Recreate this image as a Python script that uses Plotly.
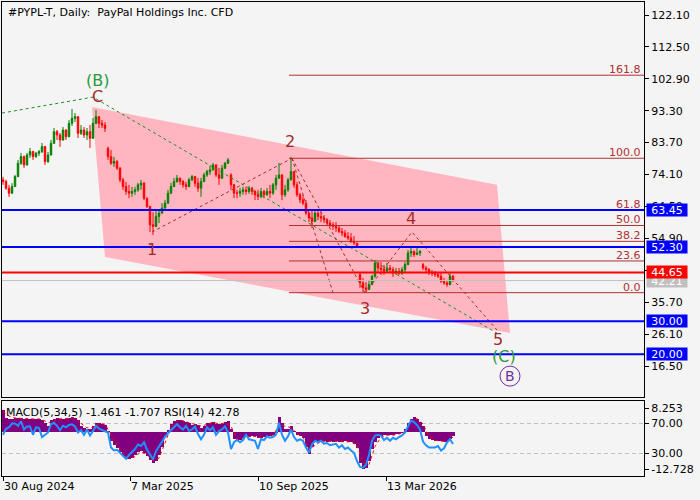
import plotly.graph_objects as go

FONT = "DejaVu Sans"
BG = "#f4f4f4"

# ---------------- price data (one candle per 3 trading days) ----------------
first_bar = 3
bar_step = 3

opens = [72.5, 72.0, 70.0, 68.5, 70.5, 73.5, 77.5, 79.5, 77.0, 80.0,
         81.0, 79.5, 80.5, 81.0, 82.5, 78.0, 80.0, 83.5, 87.0, 86.0,
         84.5, 87.5, 85.5, 89.5, 91.0, 91.5, 86.5, 87.5, 86.0, 87.0,
         85.0, 89.5, 91.5, 89.5, 89.0, 82.0, 79.5, 77.5, 78.0, 76.0,
         72.5, 70.5, 69.0, 68.5, 69.0, 69.5, 71.0, 71.5, 67.0, 64.5,
         59.0, 58.5, 61.5, 62.5, 64.0, 65.5, 68.5, 70.5, 72.0, 73.0,
         72.0, 71.0, 70.5, 72.5, 73.5, 71.5, 70.0, 72.0, 74.0, 75.0,
         75.5, 77.0, 74.0, 73.0, 76.0, 77.5, 74.0, 71.0, 68.5, 68.5,
         69.0, 69.5, 69.0, 70.0, 69.0, 68.0, 67.5, 69.0, 68.0, 69.0,
         68.5, 71.0, 73.0, 74.0, 68.0, 69.5, 72.5, 75.0, 71.0, 68.0,
         66.5, 65.5, 62.5, 61.0, 60.0, 62.5, 61.5, 61.0, 60.5, 59.5,
         59.0, 58.5, 58.0, 57.0, 56.5, 55.5, 55.0, 54.0, 53.5, 44.0,
         41.5, 40.0, 39.5, 41.0, 43.5, 47.5, 46.0, 45.5, 45.0, 46.0,
         45.5, 44.5, 45.0, 44.5, 45.5, 47.0, 50.5, 51.0, 50.0, 50.5,
         47.0, 46.0, 45.5, 44.5, 44.5, 44.0, 43.5, 42.0, 41.5, 41.0,
         43.5]
highs = [73.4, 72.5, 71.0, 71.5, 74.0, 78.5, 80.6, 79.8, 80.6, 82.1,
         81.2, 80.9, 81.5, 83.6, 82.7, 80.9, 84.5, 88.1, 87.5, 86.6,
         88.4, 87.7, 90.5, 93.8, 92.6, 91.7, 89.0, 88.4, 88.1, 89.0,
         91.1, 93.5, 91.7, 90.5, 89.9, 82.5, 81.5, 79.4, 78.5, 76.4,
         73.1, 71.9, 71.0, 70.4, 70.4, 71.6, 72.5, 71.8, 67.2, 64.7,
         62.8, 63.4, 63.4, 65.5, 66.4, 69.5, 71.6, 73.1, 74.0, 73.2,
         72.5, 71.9, 73.1, 74.0, 73.7, 73.1, 73.1, 74.6, 75.5, 76.7,
         77.6, 77.2, 76.1, 77.0, 77.9, 79.1, 74.5, 71.2, 69.5, 70.1,
         70.4, 70.4, 70.7, 70.4, 69.5, 69.5, 70.1, 69.5, 70.1, 71.0,
         71.6, 74.0, 77.6, 74.2, 71.0, 73.1, 79.4, 75.2, 71.9, 68.6,
         68.0, 66.4, 62.8, 63.4, 63.4, 63.4, 62.8, 61.9, 61.0, 60.4,
         59.8, 59.8, 58.9, 58.0, 57.4, 56.8, 56.5, 55.6, 53.5, 44.5,
         43.0, 41.8, 42.4, 43.9, 48.4, 47.8, 47.8, 46.9, 47.5, 46.9,
         46.3, 46.0, 46.0, 46.3, 47.8, 51.4, 52.0, 51.2, 52.0, 51.4,
         47.5, 46.6, 46.0, 45.4, 45.1, 44.8, 44.8, 43.0, 42.4, 44.5,
         43.9]
lows = [71.0, 69.5, 67.4, 68.3, 70.3, 73.3, 77.0, 76.1, 76.8, 79.1,
        78.5, 79.1, 79.7, 80.6, 77.0, 77.6, 79.8, 83.3, 84.5, 82.4,
        84.3, 84.5, 85.3, 88.7, 89.9, 85.1, 86.0, 85.1, 84.5, 82.1,
        84.8, 89.3, 88.1, 88.1, 86.9, 78.5, 77.0, 76.4, 75.5, 71.8,
        69.5, 68.0, 67.0, 67.4, 68.0, 68.9, 69.5, 66.4, 64.0, 56.8,
        55.9, 58.3, 59.5, 62.3, 63.8, 65.3, 68.3, 70.3, 71.6, 71.0,
        70.1, 69.5, 70.3, 72.2, 70.4, 68.9, 67.4, 71.8, 73.4, 74.0,
        75.3, 73.4, 71.0, 72.8, 75.8, 77.3, 69.5, 67.0, 67.0, 67.4,
        68.0, 68.0, 68.3, 68.0, 66.4, 66.4, 67.0, 67.0, 67.7, 67.0,
        68.0, 69.5, 72.8, 66.4, 67.4, 68.9, 72.3, 70.1, 67.4, 65.5,
        64.9, 61.9, 59.8, 58.0, 59.8, 60.4, 59.8, 59.5, 58.6, 58.3,
        57.4, 56.8, 56.5, 55.6, 55.0, 54.4, 53.5, 52.9, 52.0, 40.0,
        38.8, 38.5, 39.4, 40.9, 43.0, 44.8, 43.9, 43.9, 44.5, 44.5,
        43.3, 43.9, 43.9, 43.9, 44.8, 46.8, 49.3, 49.3, 49.9, 49.6,
        45.4, 44.5, 43.9, 43.6, 43.3, 43.0, 41.5, 40.9, 40.3, 40.8,
        41.8]
closes = [72.0, 70.0, 68.5, 70.5, 73.5, 77.5, 79.5, 77.0, 80.0, 81.0,
          79.5, 80.5, 81.0, 82.5, 78.0, 80.0, 83.5, 87.0, 86.0, 84.5,
          87.5, 85.5, 89.5, 91.0, 91.5, 86.5, 87.5, 86.0, 87.0, 85.0,
          89.5, 91.5, 89.5, 89.0, 88.0, 79.5, 77.5, 78.0, 76.0, 72.5,
          70.5, 69.0, 68.5, 69.0, 69.5, 71.0, 71.5, 67.0, 64.5, 59.0,
          58.5, 61.5, 62.5, 64.0, 65.5, 68.5, 70.5, 72.0, 73.0, 72.0,
          71.0, 70.5, 72.5, 73.5, 71.5, 70.0, 72.0, 74.0, 75.0, 75.5,
          77.0, 74.0, 73.0, 76.0, 77.5, 78.5, 71.0, 68.5, 68.5, 69.0,
          69.5, 69.0, 70.0, 69.0, 68.0, 67.5, 69.0, 68.0, 69.0, 68.5,
          71.0, 73.0, 74.0, 68.0, 69.5, 72.5, 75.0, 71.0, 68.0, 66.5,
          65.5, 62.5, 61.0, 60.0, 62.5, 61.5, 61.0, 60.5, 59.5, 59.0,
          58.5, 58.0, 57.0, 56.5, 55.5, 55.0, 54.0, 53.5, 52.5, 41.5,
          40.0, 39.5, 41.0, 43.5, 47.5, 46.0, 45.5, 45.0, 46.0, 45.5,
          44.5, 45.0, 44.5, 45.5, 47.0, 50.5, 51.0, 50.0, 50.5, 51.0,
          46.0, 45.5, 44.5, 44.5, 44.0, 43.5, 42.0, 41.5, 41.0, 43.5,
          42.21]

# ---------------- indicator data ----------------
macd_hist = [7.5, 4.8, 4.5, 4.6, 4.8, 4.8, 4.8, 4.6, 4.5, 4.6,
             4.5, 4.4, 4.5, 4.3, 3.0, 2.2, 4.0, 4.6, 4.8, 4.6,
             4.6, 4.5, 4.7, 5.0, 4.8, 4.0, 2.0, 1.5, 1.0, 1.2,
             2.0, 3.0, 3.2, 2.8, 2.5, 0.5, -3.1, -4.5, -5.5, -7.0,
             -8.2, -9.2, -9.3, -9.0, -8.0, -6.8, -6.5, -7.2, -8.2, -9.5,
             -10.5, -10.0, -8.0, -5.0, -1.5, 0.8, 2.8, 3.8, 4.2, 4.0,
             3.8, 3.5, 3.0, 2.5, 2.6, 2.4, 1.5, 2.2, 3.0, 3.2,
             3.6, 2.8, 2.6, 2.8, 3.4, 3.8, 1.0, -2.5, -3.2, -2.8,
             -2.0, -1.5, -1.6, -1.4, -1.5, -2.2, -2.0, -1.8, -1.5, -1.4,
             -1.2, -0.5, 5.0, 3.0, 1.2, 1.0, 2.0, 0.5, -1.2, -1.5,
             -2.0, -5.0, -7.5, -5.0, -3.5, -3.0, -3.2, -3.0, -3.3, -3.2,
             -3.4, -3.2, -3.5, -3.3, -3.2, -3.4, -3.5, -4.0, -5.5, -10.5,
             -12.7, -12.5, -10.0, -6.0, -3.5, -2.0, -1.5, -1.2, -1.0, -1.2,
             -1.0, -0.8, -0.6, -0.2, 1.0, 3.0, 4.5, 5.0, 4.5, 3.5,
             2.0, -1.5, -2.5, -2.8, -3.0, -3.0, -3.2, -3.5, -3.5, -2.5,
             -1.461]
macd_signal = [7.0, 5.5, 4.8, 4.8, 4.6, 4.5, 4.5, 3.8, 3.0, 4.5,
               4.6, 4.6, 4.8, 3.0, 1.4, 1.6, 2.9, 2.7, -1.0, -4.5,
               -7.3, -9.0, -8.5, -6.8, -7.8, -9.8, -9.0, -3.5, 1.5, 3.9,
               3.9, 3.2, 2.6, 2.0, 2.6, 3.4, 2.7, 3.1, 2.0, -2.5,
               -2.4, -1.6, -1.5, -2.0, -1.6, -1.3, 2.5, 2.0, 1.5, -0.5,
               -1.8, -6.0, -4.5, -3.2, -3.2, -3.3, -3.4, -3.3, -3.4, -4.5,
               -10.5, -11.2, -5.0, -1.8, -1.1, -1.1, -0.7, 0.3, 3.5, 4.6,
               2.8, -1.5, -2.8, -3.1, -3.5, -1.707]
rsi = [55, 63, 65, 70, 70, 67, 73, 62, 66, 66,
       55, 65, 64, 52, 55, 58, 69, 71, 67, 61,
       67, 65, 68, 69, 66, 58, 61, 55, 62, 54,
       60, 67, 63, 61, 60, 58, 38, 34, 35, 31,
       27, 23, 28, 32, 36, 42, 40, 45, 35, 29,
       22, 33, 40, 46, 52, 57, 61, 65, 69, 65,
       62, 67, 60, 62, 66, 56, 49, 55, 65, 61,
       65, 55, 60, 62, 66, 58, 36, 45, 48, 45,
       48, 55, 49, 48, 47, 36, 49, 48, 53, 51,
       52, 55, 71, 55, 47, 53, 62, 52, 47, 49,
       47, 38, 31, 42, 47, 45, 47, 43, 44, 41,
       42, 43, 38, 41, 36, 38, 34, 31, 20, 12,
       11, 15, 28, 47, 54, 55, 54, 48, 51, 47,
       51, 49, 52, 54, 58, 67, 74, 72, 68, 62,
       46, 41, 38, 38, 38, 40, 34, 37, 45, 49,
       42.78]

# ---------------- axis labels ----------------
price_ticks = [122.10, 112.50, 102.90, 93.30, 83.70, 74.10, 64.50, 54.90, 45.30, 35.70, 26.10, 16.50]
date_tick_bars = [3, 130, 258, 386]
date_tick_labels = ["30 Aug 2024", "7 Mar 2025", "10 Sep 2025", "13 Mar 2026"]
macd_ticks = [8.253, -12.728]
rsi_levels = [70, 30]

# ---------------- analysis objects ----------------
channel_bars = [92, 497, 510, 105]
channel_prices = [94.4, 71.0, 26.4, 49.3]

wave_bars = [152, 292, 365, 412, 497]
wave_prices = [56.8, 79.0, 38.5, 56.8, 27.3]
wave_names = ["1", "2", "3", "4", "5"]
alt3_bar, alt3_price = 333, 38.5

major_bars = [2, 93, 497]
major_prices = [92.6, 97.4, 26.4]

fib_start_bar = 289
fib_low, fib_high = 38.56, 79.0
fib_ratios = [0.0, 23.6, 38.2, 50.0, 61.8, 100.0, 161.8]

levels_blue = [63.45, 52.30, 30.00, 20.00]
level_red = 44.65
last_price = 42.21
title_text = "#PYPL-T, Daily:\u00a0\u00a0PayPal Holdings Inc. CFD"
ind_text = "MACD(5,34,5) -1.461 -1.707 RSI(14) 42.78"

# ---------------- build ----------------
bars = [first_bar + bar_step * i for i in range(len(closes))]
sig_bars = [first_bar + 2 * bar_step * i for i in range(len(macd_signal))]
X_RANGE = [2, 644]

WAVE_RED = "#a52a2a"
FIB_RED = "#b03030"
GREEN_W = "#228b22"

fig = go.Figure()

fig.add_trace(go.Candlestick(
    x=bars, open=opens, high=highs, low=lows, close=closes,
    increasing=dict(line=dict(color="#008000", width=1), fillcolor="#008000"),
    decreasing=dict(line=dict(color="#ff0000", width=1), fillcolor="#ff0000"),
    whiskerwidth=0, xaxis="x", yaxis="y", hoverinfo="skip"))

dash = "3px,3px"
fig.add_trace(go.Scatter(x=major_bars, y=major_prices, mode="lines",
                         line=dict(color=GREEN_W, width=1, dash=dash),
                         xaxis="x", yaxis="y", hoverinfo="skip"))
segs = [
    ([wave_bars[0], wave_bars[1]], [wave_prices[0], wave_prices[1]]),
    ([wave_bars[1], wave_bars[2]], [wave_prices[1], wave_prices[2]]),
    ([wave_bars[1], alt3_bar], [wave_prices[1], alt3_price]),
    (wave_bars[2:], wave_prices[2:]),
]
for sx, sy in segs:
    fig.add_trace(go.Scatter(x=sx, y=sy, mode="lines",
                             line=dict(color=WAVE_RED, width=1, dash=dash),
                             xaxis="x", yaxis="y", hoverinfo="skip"))

fig.add_trace(go.Bar(x=bars, y=macd_hist, width=bar_step, marker=dict(color="#800080", line=dict(width=0)),
                     xaxis="x2", yaxis="y2", hoverinfo="skip"))
fig.add_trace(go.Scatter(x=sig_bars, y=macd_signal, mode="lines",
                         line=dict(color="#ff0000", width=1, dash="dot"),
                         xaxis="x2", yaxis="y2", hoverinfo="skip"))
fig.add_trace(go.Scatter(x=bars, y=rsi, mode="lines",
                         line=dict(color="#1e90ff", width=2),
                         xaxis="x2", yaxis="y3", hoverinfo="skip"))

shapes = []
annotations = []

# pink channel (behind the candles)
path = "M " + " L ".join(f"{b},{p}" for b, p in zip(channel_bars, channel_prices)) + " Z"
shapes.append(dict(type="path", xref="x", yref="y", path=path, fillcolor="#ffb6c1",
                   line=dict(width=0), layer="below"))

# fib levels
for r in fib_ratios:
    lv = fib_low + r / 100.0 * (fib_high - fib_low)
    shapes.append(dict(type="line", xref="x", yref="y", x0=fib_start_bar, x1=X_RANGE[1],
                       y0=lv, y1=lv, line=dict(color=FIB_RED, width=1), layer="above"))
    annotations.append(dict(text=f"{r:.1f}", xref="x domain", x=1, xanchor="right", xshift=-2,
                            yref="y", y=lv, yanchor="bottom", yshift=-2, showarrow=False,
                            font=dict(family=FONT, size=11, color=FIB_RED), borderpad=0))

# horizontal levels
shapes.append(dict(type="line", xref="x domain", yref="y", x0=0, x1=1, y0=last_price, y1=last_price,
                   line=dict(color="#c0c0c0", width=1), layer="above"))
for lv in levels_blue:
    shapes.append(dict(type="line", xref="x domain", yref="y", x0=0, x1=1, y0=lv, y1=lv,
                       line=dict(color="#0000ff", width=2), layer="above"))
shapes.append(dict(type="line", xref="x domain", yref="y", x0=0, x1=1, y0=level_red, y1=level_red,
                   line=dict(color="#ff0000", width=2), layer="above"))

def price_box(v, color):
    return dict(text=f"{v:.2f}", xref="paper", x=1, xanchor="left", xshift=2,
                yref="y", y=v, yanchor="middle", showarrow=False, bgcolor=color,
                font=dict(family=FONT, size=11, color="white"), borderpad=0,
                width=40, height=12)

annotations.append(price_box(last_price, "#c0c0c0"))
for lv in levels_blue:
    annotations.append(price_box(lv, "#0000ff"))
annotations.append(price_box(level_red, "#ff0000"))

for lv in rsi_levels:
    shapes.append(dict(type="line", xref="x2 domain", yref="y3", x0=0, x1=1, y0=lv, y1=lv,
                       line=dict(color="#c0c0c0", width=1, dash="4px,3px"), layer="below"))

wave_shift = [(0, -17), (-2, 17), (0, -16), (-1, 14), (1, -9)]
for b, p, n, (dx, dy) in zip(wave_bars, wave_prices, wave_names, wave_shift):
    annotations.append(dict(text=n, xref="x", yref="y", x=b, y=p, xshift=dx, yshift=dy,
                            showarrow=False, font=dict(family=FONT, size=16, color=WAVE_RED)))
annotations.append(dict(text="C", xref="x", yref="y", x=major_bars[1], y=major_prices[1],
                        xshift=4, yshift=1, showarrow=False,
                        font=dict(family=FONT, size=16, color=WAVE_RED)))
annotations.append(dict(text="(B)", xref="x", yref="y", x=major_bars[1], y=major_prices[1],
                        xshift=4, yshift=17, showarrow=False,
                        font=dict(family=FONT, size=16, color="#2a9a3a")))
annotations.append(dict(text="(C)", xref="x", yref="y", x=major_bars[2], y=major_prices[2],
                        xshift=7, yshift=-23, showarrow=False,
                        font=dict(family=FONT, size=16, color="#2a9a3a")))
annotations.append(dict(text="B", xref="x", yref="y", x=major_bars[2], y=major_prices[2],
                        xshift=13, yshift=-43, showarrow=False,
                        font=dict(family=FONT, size=14, color="#7030a0")))
shapes.append(dict(type="circle", xref="x", yref="y", xsizemode="pixel", ysizemode="pixel",
                   xanchor=major_bars[2], yanchor=major_prices[2],
                   x0=3, x1=23, y0=-53, y1=-33, line=dict(color="#7030a0", width=1), layer="above"))

annotations.append(dict(text=title_text, xref="paper", x=0, xanchor="left", xshift=4,
                        yref="paper", y=1, yanchor="top", yshift=-2, showarrow=False,
                        font=dict(family=FONT, size=11, color="black")))
annotations.append(dict(text=ind_text, xref="paper", x=0, xanchor="left", xshift=2,
                        yref="y2 domain", y=1, yanchor="top", yshift=-3, showarrow=False,
                        font=dict(family=FONT, size=11, color="black")))

axis_common = dict(showgrid=False, zeroline=False, showline=True, linecolor="black",
                   linewidth=1, mirror=True, tickfont=dict(family=FONT, size=11, color="black"))

fig.update_layout(
    width=700, height=500,
    margin=dict(l=2, r=56, t=2, b=24),
    paper_bgcolor=BG, plot_bgcolor=BG,
    showlegend=False, hovermode=False, bargap=0,
    xaxis=dict(range=X_RANGE, domain=[0, 1], anchor="y", showticklabels=False, ticks="",
               rangeslider=dict(visible=False), **axis_common),
    yaxis=dict(range=[7.18, 126.01], domain=[0.1667, 1], anchor="x", side="right",
               tickvals=price_ticks, ticktext=[f"{v:.2f}" for v in price_ticks],
               ticks="outside", ticklen=4, tickcolor="black", **axis_common),
    xaxis2=dict(range=X_RANGE, domain=[0, 1], anchor="y2", tickvals=date_tick_bars,
                ticktext=date_tick_labels, ticks="outside", ticklen=4, tickcolor="black",
                ticklabelposition="outside right", **axis_common),
    yaxis2=dict(range=[-15.136, 10.66], domain=[0, 0.1582], anchor="x2", side="right",
                tickvals=macd_ticks, ticktext=[f"{v:.3f}" for v in macd_ticks],
                ticks="outside", ticklen=4, tickcolor="black", **axis_common),
    yaxis3=dict(range=[0, 100], overlaying="y2", anchor="x2", side="right",
                tickvals=rsi_levels, ticktext=[f"{v:.2f}" for v in rsi_levels],
                ticks="outside", ticklen=4, tickcolor="black", showgrid=False, zeroline=False,
                showline=False, tickfont=dict(family=FONT, size=11, color="black")),
    shapes=shapes, annotations=annotations,
)

fig.write_html("out.html",
               config={"displayModeBar": False, "staticPlot": True},
               post_script="document.body.style.margin='0';document.body.style.padding='0';"
                           "document.body.style.overflow='hidden';")
